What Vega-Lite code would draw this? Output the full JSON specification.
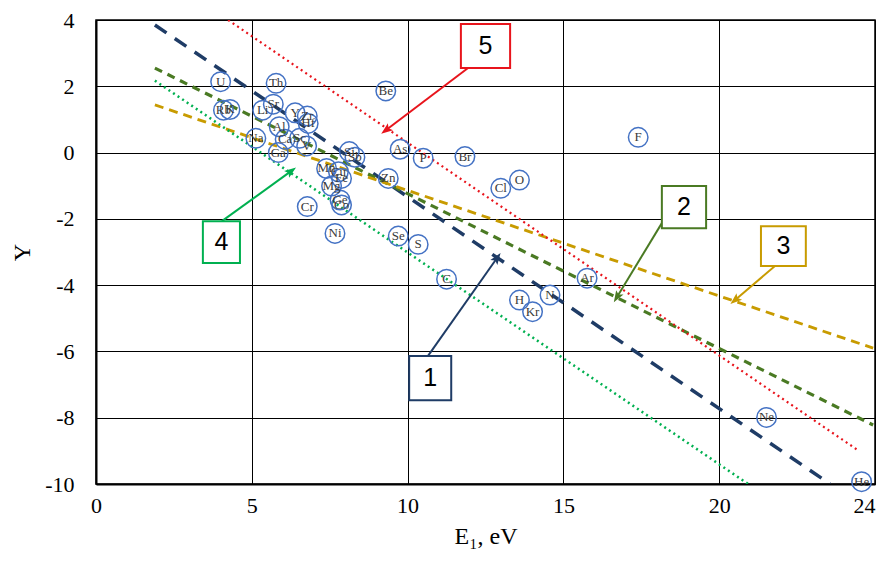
{
  "$schema": "https://vega.github.io/schema/vega-lite/v6.json",
  "width": 779,
  "height": 464,
  "autosize": {"type": "none"},
  "padding": {"left": 96, "top": 20, "right": 18, "bottom": 77},
  "background": "white",
  "config": {
    "view": {"stroke": "black", "strokeWidth": 1.5},
    "axis": {
      "labelFont": "Liberation Serif",
      "titleFont": "Liberation Serif",
      "labelFontSize": 22,
      "titleFontSize": 24,
      "labelColor": "black",
      "titleColor": "black",
      "titleFontWeight": "normal",
      "gridColor": "black",
      "gridOpacity": 1,
      "gridWidth": 1,
      "domainColor": "black",
      "domainWidth": 2,
      "ticks": false
    }
  },
  "datasets": {
    "points": [
      {"el": "U", "E": 4.00, "Y": 2.14},
      {"el": "Th", "E": 5.78, "Y": 2.09},
      {"el": "Rb", "E": 4.09, "Y": 1.28},
      {"el": "K", "E": 4.30, "Y": 1.30},
      {"el": "Sr", "E": 5.69, "Y": 1.46},
      {"el": "Li", "E": 5.35, "Y": 1.28},
      {"el": "Y", "E": 6.39, "Y": 1.20},
      {"el": "Zr", "E": 6.78, "Y": 1.10},
      {"el": "Hf", "E": 6.81, "Y": 0.88},
      {"el": "Al", "E": 5.88, "Y": 0.78},
      {"el": "Na", "E": 5.13, "Y": 0.43},
      {"el": "Ca", "E": 6.07, "Y": 0.40},
      {"el": "Sc", "E": 6.53, "Y": 0.43},
      {"el": "V", "E": 6.76, "Y": 0.20},
      {"el": "Ga", "E": 5.85, "Y": 0.00},
      {"el": "Si", "E": 8.13, "Y": 0.03},
      {"el": "Sb", "E": 8.31, "Y": -0.14},
      {"el": "Mn", "E": 7.40, "Y": -0.48},
      {"el": "Cu", "E": 7.78, "Y": -0.58},
      {"el": "Fe", "E": 7.88, "Y": -0.78},
      {"el": "Mg", "E": 7.56, "Y": -1.01},
      {"el": "Ge", "E": 7.83, "Y": -1.43},
      {"el": "Co", "E": 7.88, "Y": -1.58},
      {"el": "Cr", "E": 6.78, "Y": -1.63},
      {"el": "Ni", "E": 7.67, "Y": -2.44},
      {"el": "Be", "E": 9.30, "Y": 1.86},
      {"el": "Zn", "E": 9.38, "Y": -0.78},
      {"el": "As", "E": 9.76, "Y": 0.10},
      {"el": "P", "E": 10.50, "Y": -0.17},
      {"el": "Br", "E": 11.84, "Y": -0.12},
      {"el": "Cl", "E": 12.99, "Y": -1.08},
      {"el": "O", "E": 13.59, "Y": -0.83},
      {"el": "Se", "E": 9.70, "Y": -2.52},
      {"el": "S", "E": 10.34, "Y": -2.77},
      {"el": "C", "E": 11.25, "Y": -3.82},
      {"el": "H", "E": 13.59, "Y": -4.45},
      {"el": "Kr", "E": 14.01, "Y": -4.80},
      {"el": "N", "E": 14.57, "Y": -4.30},
      {"el": "Ar", "E": 15.76, "Y": -3.79},
      {"el": "F", "E": 17.40, "Y": 0.46},
      {"el": "Ne", "E": 21.52, "Y": -7.99},
      {"el": "He", "E": 24.57, "Y": -9.93}
    ],
    "lines": [
      {"s": "1", "x": 1.89, "y": 3.85},
      {"s": "1", "x": 23.56, "y": -10.0},
      {"s": "2", "x": 1.89, "y": 2.55},
      {"s": "2", "x": 24.94, "y": -8.22},
      {"s": "3", "x": 1.89, "y": 1.44},
      {"s": "3", "x": 24.94, "y": -5.90},
      {"s": "4", "x": 1.89, "y": 2.17},
      {"s": "4", "x": 20.93, "y": -10.0},
      {"s": "5", "x": 4.24, "y": 4.0},
      {"s": "5", "x": 24.45, "y": -8.98}
    ],
    "boxes": [
      {"s": "1", "x1": 10.05, "x2": 11.40, "y1": -6.14, "y2": -7.47},
      {"s": "2", "x1": 18.16, "x2": 19.58, "y1": -1.01, "y2": -2.28},
      {"s": "3", "x1": 21.34, "x2": 22.78, "y1": -2.22, "y2": -3.42},
      {"s": "4", "x1": 3.43, "x2": 4.62, "y1": -2.07, "y2": -3.33},
      {"s": "5", "x1": 11.71, "x2": 13.29, "y1": 3.88, "y2": 2.55}
    ],
    "arrows": [
      {"s": "1", "x1": 10.65, "y1": -6.14, "x2": 12.87, "y2": -3.18},
      {"s": "2", "x1": 18.32, "y1": -1.88, "x2": 16.72, "y2": -4.36},
      {"s": "3", "x1": 21.79, "y1": -3.42, "x2": 20.51, "y2": -4.45},
      {"s": "4", "x1": 4.04, "y1": -2.07, "x2": 6.26, "y2": -0.56},
      {"s": "5", "x1": 11.94, "y1": 2.55, "x2": 9.31, "y2": 0.68}
    ]
  },
  "layer": [
    {
      "data": {"name": "lines"},
      "mark": {"type": "line", "clip": true},
      "encoding": {
        "x": {
          "field": "x", "type": "quantitative",
          "scale": {"domain": [0, 25], "nice": false, "zero": false},
          "axis": {
            "values": [0, 5, 10, 15, 20, 25],
            "labelExpr": "datum.value == 25 ? '24' : datum.label",
            "labelAlign": {"expr": "datum.value == 25 ? 'right' : 'center'"},
            "labelPadding": 11,
            "title": "E₁, eV",
            "titlePadding": 8
          }
        },
        "y": {
          "field": "y", "type": "quantitative",
          "scale": {"domain": [-10, 4], "nice": false, "zero": false},
          "axis": {
            "values": [-10, -8, -6, -4, -2, 0, 2, 4],
            "labelExpr": "replace(datum.label, '−', '-')",
            "labelPadding": 22,
            "title": "Y",
            "titlePadding": 10
          }
        },
        "detail": {"field": "s"},
        "color": {
          "field": "s", "type": "nominal", "legend": null,
          "scale": {"domain": ["1", "2", "3", "4", "5"], "range": ["#1f3c66", "#4a7a23", "#c89b00", "#00b050", "#e8141c"]}
        },
        "strokeDash": {
          "field": "s", "type": "nominal", "legend": null,
          "scale": {"domain": ["1", "2", "3", "4", "5"], "range": [[14, 10], [8, 6], [9, 6], [2, 3.5], [2, 3.5]]}
        },
        "strokeWidth": {
          "field": "s", "type": "nominal", "legend": null,
          "scale": {"domain": ["1", "2", "3", "4", "5"], "range": [3.5, 2.2, 2.2, 2.2, 2.2]}
        }
      }
    },
    {
      "data": {"name": "points"},
      "mark": {"type": "point", "shape": "circle", "filled": false, "size": 380, "stroke": "#4472c4", "strokeWidth": 1.5, "opacity": 1},
      "encoding": {
        "x": {"field": "E", "type": "quantitative"},
        "y": {"field": "Y", "type": "quantitative"}
      }
    },
    {
      "data": {"name": "points"},
      "mark": {"type": "text", "font": "Liberation Serif", "fontSize": 13, "color": "#3a3a3a", "align": "center", "baseline": "middle"},
      "encoding": {
        "x": {"field": "E", "type": "quantitative"},
        "y": {"field": "Y", "type": "quantitative"},
        "text": {"field": "el"}
      }
    },
    {
      "data": {"name": "arrows"},
      "mark": {"type": "rule", "strokeWidth": 2},
      "encoding": {
        "x": {"field": "x1", "type": "quantitative"},
        "y": {"field": "y1", "type": "quantitative"},
        "x2": {"field": "x2"},
        "y2": {"field": "y2"},
        "color": {
          "field": "s", "type": "nominal", "legend": null,
          "scale": {"domain": ["1", "2", "3", "4", "5"], "range": ["#1f3c66", "#4a7a23", "#c89b00", "#00b050", "#e8141c"]}
        }
      }
    },
    {
      "data": {"name": "arrows"},
      "transform": [
        {"calculate": "atan2((datum.x2 - datum.x1) * 31.16, (datum.y2 - datum.y1) * 33.14) * 180 / PI", "as": "ang"}
      ],
      "mark": {"type": "point", "shape": "M0,-1L0.7,0.9L0,0.5L-0.7,0.9Z", "filled": true, "size": 150, "opacity": 1},
      "encoding": {
        "x": {"field": "x2", "type": "quantitative"},
        "y": {"field": "y2", "type": "quantitative"},
        "angle": {"field": "ang", "type": "quantitative", "scale": null},
        "color": {
          "field": "s", "type": "nominal", "legend": null,
          "scale": {"domain": ["1", "2", "3", "4", "5"], "range": ["#1f3c66", "#4a7a23", "#c89b00", "#00b050", "#e8141c"]}
        }
      }
    },
    {
      "data": {"name": "boxes"},
      "mark": {"type": "rect", "fill": "white", "strokeWidth": 2},
      "encoding": {
        "x": {"field": "x1", "type": "quantitative"},
        "x2": {"field": "x2"},
        "y": {"field": "y1", "type": "quantitative"},
        "y2": {"field": "y2"},
        "stroke": {
          "field": "s", "type": "nominal", "legend": null,
          "scale": {"domain": ["1", "2", "3", "4", "5"], "range": ["#1f3c66", "#4a7a23", "#c89b00", "#00b050", "#e8141c"]}
        }
      }
    },
    {
      "data": {"name": "boxes"},
      "transform": [
        {"calculate": "(datum.x1 + datum.x2) / 2", "as": "cx"},
        {"calculate": "(datum.y1 + datum.y2) / 2", "as": "cy"}
      ],
      "mark": {"type": "text", "font": "Liberation Sans", "fontSize": 25, "color": "black", "align": "center", "baseline": "middle"},
      "encoding": {
        "x": {"field": "cx", "type": "quantitative"},
        "y": {"field": "cy", "type": "quantitative"},
        "text": {"field": "s"}
      }
    }
  ]
}
